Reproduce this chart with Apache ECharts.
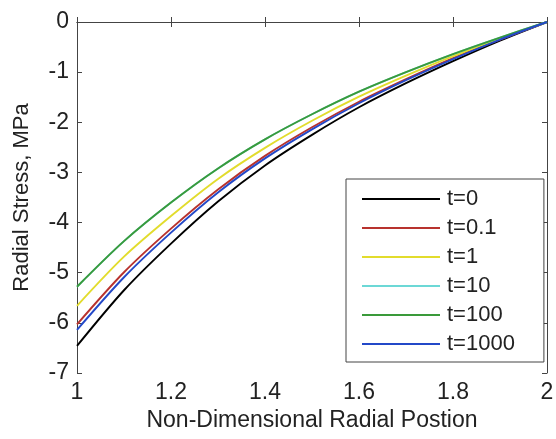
<!DOCTYPE html>
<html>
<head>
<meta charset="utf-8">
<script src="https://cdn.jsdelivr.net/npm/echarts@6/dist/echarts.min.js"></script>
<style>
html,body{margin:0;padding:0;background:#fff;}
#chart{width:556px;height:439px;}
</style>
</head>
<body>
<div id="chart"></div>
<script>
// Data
const radialPosition = [1, 1.1, 1.2, 1.3, 1.4, 1.5, 1.6, 1.7, 1.8, 1.9, 2];
const seriesNames = ['t=0', 't=0.1', 't=1', 't=10', 't=100', 't=1000'];
const stressT0    = [-6.46, -5.35, -4.42, -3.58, -2.86, -2.25, -1.70, -1.22, -0.78, -0.37, 0];
const stressT01   = [-6.03, -4.99, -4.12, -3.34, -2.67, -2.10, -1.59, -1.14, -0.72, -0.35, 0];
const stressT1    = [-5.66, -4.68, -3.87, -3.13, -2.51, -1.97, -1.49, -1.07, -0.68, -0.33, 0];
const stressT10   = [-5.28, -4.37, -3.60, -2.92, -2.34, -1.84, -1.39, -1.00, -0.64, -0.31, 0];
const stressT100  = [-5.28, -4.37, -3.60, -2.92, -2.34, -1.84, -1.39, -1.00, -0.64, -0.31, 0];
const stressT1000 = [-6.14, -5.09, -4.20, -3.40, -2.72, -2.14, -1.62, -1.16, -0.74, -0.35, 0];
const xTicks = [1, 1.2, 1.4, 1.6, 1.8, 2];
const yTicks = [-7, -6, -5, -4, -3, -2, -1, 0];

const allSeries = [stressT0, stressT01, stressT1, stressT10, stressT100, stressT1000];
const colors = ['#000000', '#b8322e', '#e2dc2c', '#6cd8d6', '#3a9a3a', '#2348c8'];

const FONT = '"Liberation Sans", Arial, sans-serif';
const axisLineStyle = {color: '#444', width: 1};

const chart = echarts.init(document.getElementById('chart'), null, {renderer: 'canvas'});
chart.setOption({
  animation: false,
  backgroundColor: '#ffffff',
  grid: {left: 77, right: 9, top: 22, bottom: 66, containLabel: false, outerBoundsMode: 'none'},
  xAxis: [{
    type: 'value', min: xTicks[0], max: xTicks[xTicks.length - 1], interval: 0.2,
    position: 'bottom',
    name: 'Non-Dimensional Radial Postion', nameLocation: 'middle', nameGap: 27,
    nameTextStyle: {fontFamily: FONT, fontSize: 23, color: '#222'},
    axisLine: {show: true, lineStyle: axisLineStyle},
    axisTick: {show: true, inside: true, length: 5, lineStyle: axisLineStyle},
    axisLabel: {fontFamily: FONT, fontSize: 23, color: '#222', margin: 8,
      formatter: v => String(Number(v.toFixed(1)))},
    splitLine: {show: false}
  }, {
    type: 'value', min: xTicks[0], max: xTicks[xTicks.length - 1], interval: 0.2,
    position: 'top',
    axisLine: {show: true, lineStyle: axisLineStyle},
    axisTick: {show: true, inside: true, length: 5, lineStyle: axisLineStyle},
    axisLabel: {show: false},
    splitLine: {show: false}
  }],
  yAxis: [{
    type: 'value', min: yTicks[0], max: yTicks[yTicks.length - 1], interval: 1,
    position: 'left',
    name: 'Radial Stress, MPa', nameLocation: 'middle', nameGap: 44,
    nameTextStyle: {fontFamily: FONT, fontSize: 22, color: '#222'},
    axisLine: {show: true, lineStyle: axisLineStyle},
    axisTick: {show: true, inside: true, length: 5, lineStyle: axisLineStyle},
    axisLabel: {fontFamily: FONT, fontSize: 23, color: '#222', margin: 8},
    splitLine: {show: false}
  }, {
    type: 'value', min: yTicks[0], max: yTicks[yTicks.length - 1], interval: 1,
    position: 'right',
    axisLine: {show: true, lineStyle: axisLineStyle},
    axisTick: {show: true, inside: true, length: 5, lineStyle: axisLineStyle},
    axisLabel: {show: false},
    splitLine: {show: false}
  }],
  legend: {
    orient: 'vertical',
    left: 346, top: 179,
    padding: [9, 29, 7, 16],
    itemGap: 7,
    itemWidth: 78, itemHeight: 2,
    icon: 'rect',
    backgroundColor: '#ffffff',
    borderColor: '#444', borderWidth: 1,
    textStyle: {fontFamily: FONT, fontSize: 22, color: '#222', lineHeight: 21, padding: [0, 0, 0, 2]},
    data: seriesNames
  },
  series: allSeries.map((vals, i) => ({
    name: seriesNames[i],
    type: 'line',
    xAxisIndex: 0, yAxisIndex: 0,
    data: vals.map((v, j) => [radialPosition[j], v]),
    smooth: 0.3,
    showSymbol: false,
    symbol: 'none',
    color: colors[i],
    lineStyle: {color: colors[i], width: 1.9},
    z: 2 + i
  }))
});
</script>
</body>
</html>
